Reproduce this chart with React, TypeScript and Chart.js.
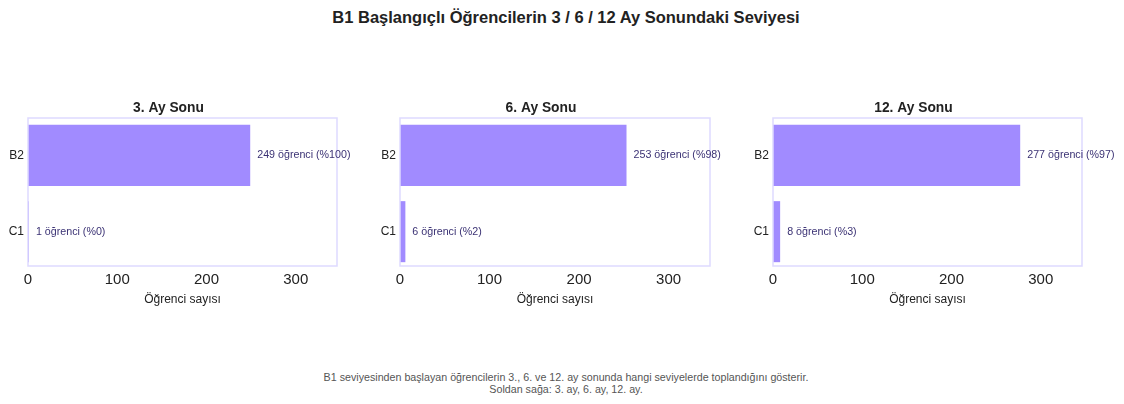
import { useEffect, useRef } from "react";
import { Chart, registerables } from "chart.js";

Chart.register(...registerables);

const levels = ["B2", "C1"];
const panelTitles = ["3. Ay Sonu", "6. Ay Sonu", "12. Ay Sonu"];
const month3 = [249, 1];
const month6 = [253, 6];
const month12 = [277, 8];
const xTicks = [0, 100, 200, 300];
const xMax = 346.25;

const FONT = '"Liberation Sans", Arial, sans-serif';
const BAR_COLOR = "#a18bff";
const BORDER_COLOR = "#dedaff";
const LABEL_COLOR = "#3b3274";
const CANVAS_H = 220;

// where each panel's canvas sits on the page
const panels = [
  { left: 0, width: 374, padRight: 37, values: month3 },
  { left: 372, width: 375, padRight: 37, values: month6 },
  { left: 745, width: 379, padRight: 42, values: month12 },
];

const frameAndLabels = {
  id: "frameAndLabels",
  afterDatasetsDraw(chart: Chart) {
    const { ctx, chartArea } = chart;
    const points = chart.data.datasets[0].data as { x: number; y: number }[];
    const values = points.map((p) => p.x);
    const total = values.reduce((a, b) => a + b, 0);
    const meta = chart.getDatasetMeta(0);
    ctx.save();
    ctx.strokeStyle = BORDER_COLOR;
    ctx.lineWidth = 1.5;
    ctx.strokeRect(
      chartArea.left,
      chartArea.top,
      chartArea.right - chartArea.left,
      chartArea.bottom - chartArea.top
    );
    ctx.font = `10.7px ${FONT}`;
    ctx.fillStyle = LABEL_COLOR;
    ctx.textAlign = "left";
    ctx.textBaseline = "middle";
    meta.data.forEach((bar: any, i: number) => {
      const v = values[i];
      const pct = Math.round((v / total) * 100);
      ctx.fillText(`${v} öğrenci (%${pct})`, bar.x + 7, bar.y);
    });
    ctx.restore();
  },
};

function Panel({ title, values, padRight, width }: { title: string; values: number[]; padRight: number; width: number }) {
  const canvasRef = useRef<HTMLCanvasElement>(null);
  const chartInstance = useRef<Chart | null>(null);

  useEffect(() => {
    if (!canvasRef.current) return;
    if (chartInstance.current) chartInstance.current.destroy();

    chartInstance.current = new Chart(canvasRef.current, {
      type: "bar",
      data: {
        datasets: [
          {
            data: values.map((v, i) => ({ x: v, y: i })),
            backgroundColor: BAR_COLOR,
            borderWidth: 0,
            barPercentage: 0.8,
            categoryPercentage: 1,
          },
        ],
      },
      options: {
        indexAxis: "y",
        animation: false,
        responsive: false,
        maintainAspectRatio: false,
        layout: { padding: { left: 0, right: padRight, top: 0, bottom: 0 } },
        plugins: {
          legend: { display: false },
          tooltip: { enabled: false },
          title: {
            display: true,
            text: title,
            color: "#222",
            font: { family: FONT, size: 13.8, weight: "bold", lineHeight: 1.2 },
            padding: { top: 9.5, bottom: 1.94 },
          },
        },
        scales: {
          x: {
            type: "linear",
            min: 0,
            max: xMax,
            grid: { display: false, drawTicks: false },
            border: { display: false },
            afterFit: (scale: any) => {
              scale.height = 44;
            },
            afterBuildTicks: (scale: any) => {
              scale.ticks = xTicks.map((v) => ({ value: v }));
            },
            ticks: {
              color: "#222",
              font: { family: FONT, size: 15, lineHeight: 1.2 },
              padding: 4.5,
              maxRotation: 0,
            },
            title: {
              display: true,
              text: "Öğrenci sayısı",
              color: "#222",
              font: { family: FONT, size: 12, lineHeight: 1.2 },
              padding: { top: 4, bottom: 3.5 },
            },
          },
          y: {
            type: "linear",
            reverse: true,
            min: -0.49,
            max: 1.45,
            offset: false,
            grid: { display: false, drawTicks: false },
            border: { display: false },
            afterFit: (scale: any) => {
              scale.width = 28;
            },
            afterBuildTicks: (scale: any) => {
              scale.ticks = levels.map((_, i) => ({ value: i }));
            },
            ticks: {
              color: "#222",
              font: { family: FONT, size: 12 },
              padding: 4,
              callback: (v: any) => levels[Number(v)],
            },
          },
        },
      },
      plugins: [frameAndLabels],
    });

    return () => {
      if (chartInstance.current) {
        chartInstance.current.destroy();
        chartInstance.current = null;
      }
    };
  }, [title, values, padRight]);

  return (
    <canvas
      ref={canvasRef}
      width={width}
      height={CANVAS_H}
      style={{ width, height: CANVAS_H, display: "block" }}
    />
  );
}

export default function App() {
  return (
    <div
      style={{
        position: "fixed",
        left: 0,
        top: 0,
        width: 1124,
        height: 404,
        background: "#fff",
        fontFamily: FONT,
        overflow: "hidden",
      }}
    >
      <div
        style={{
          position: "absolute",
          top: 8,
          left: 0,
          width: 1132,
          textAlign: "center",
          fontSize: 16.5,
          fontWeight: "bold",
          color: "#222",
        }}
      >
        B1 Başlangıçlı Öğrencilerin 3 / 6 / 12 Ay Sonundaki Seviyesi
      </div>
      {panels.map((p, i) => (
        <div key={i} style={{ position: "absolute", left: p.left, top: 90 }}>
          <Panel title={panelTitles[i]} values={p.values} padRight={p.padRight} width={p.width} />
        </div>
      ))}
      <div
        style={{
          position: "absolute",
          top: 372,
          left: 0,
          width: 1132,
          textAlign: "center",
          fontSize: 10.7,
          lineHeight: "11.5px",
          color: "#555",
        }}
      >
        B1 seviyesinden başlayan öğrencilerin 3., 6. ve 12. ay sonunda hangi seviyelerde toplandığını gösterir.
        <br />
        Soldan sağa: 3. ay, 6. ay, 12. ay.
      </div>
    </div>
  );
}
